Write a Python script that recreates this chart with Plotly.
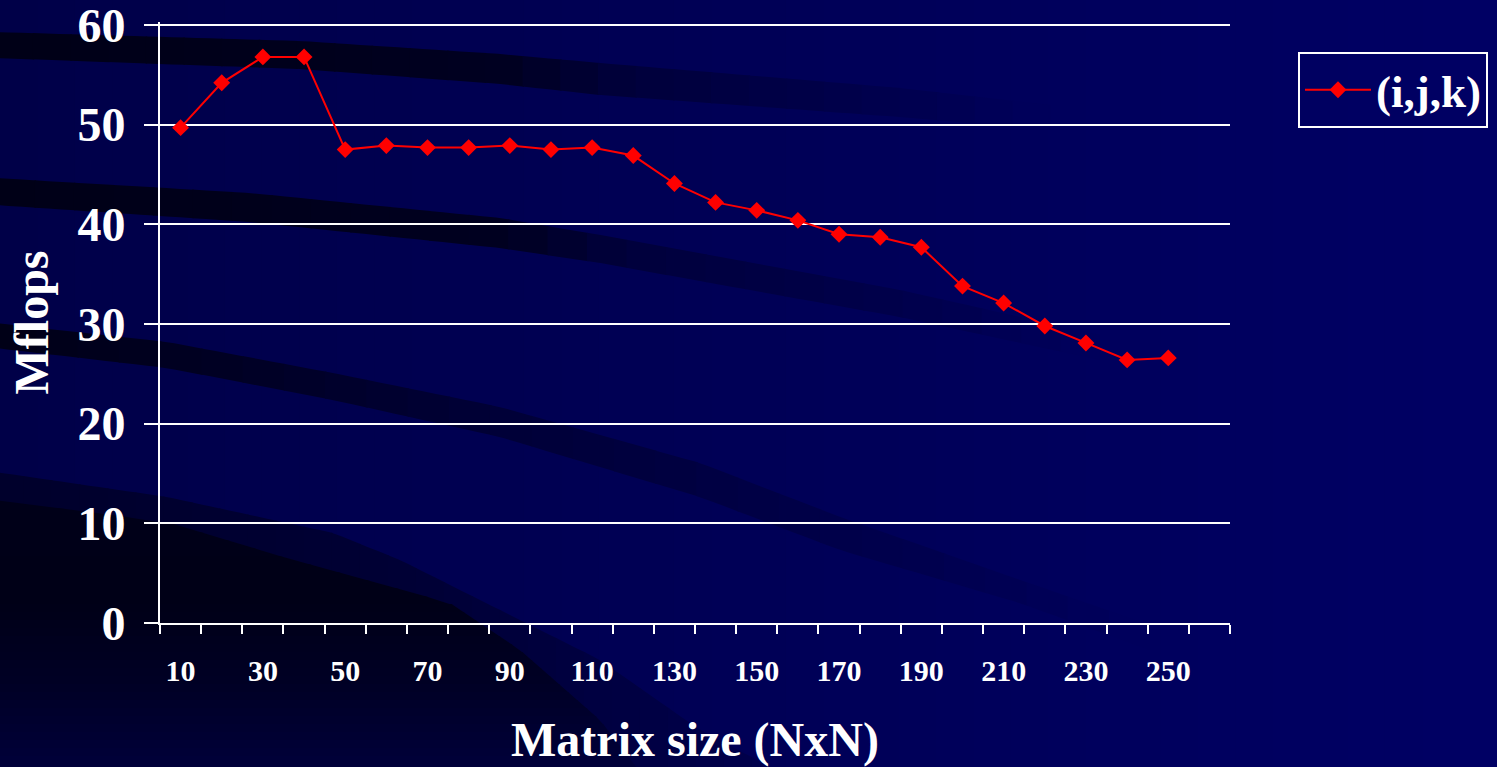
import numpy as np
import plotly.graph_objects as go

# ---------------- data ----------------
sizes = list(range(10, 260, 10))
mflops = [49.7, 54.2, 56.8, 56.8, 47.5, 47.9, 47.7, 47.7, 47.9, 47.5, 47.7, 46.9,
          44.1, 42.2, 41.4, 40.4, 39.0, 38.7, 37.7, 33.8, 32.1, 29.8, 28.1, 26.4, 26.6]
x_tick_labels = sizes[::2]
y_ticks = [0, 10, 20, 30, 40, 50, 60]
series_name = "(i,j,k)"
x_title = "Matrix size (NxN)"
y_title = "Mflops"

# ---------------- layout geometry ----------------
W, H = 1497, 767
L, R, B = 160, 1230, 623
Y_TOP_VAL = 60.3
PX_PER_UNIT = 598 / 60.0
T = int(round(B - Y_TOP_VAL * PX_PER_UNIT))
FONT = "Liberation Serif, Times New Roman, serif"


def px(x):
    return (x - L) / (R - L)


def py(y):
    return (B - y) / (B - T)


shapes = []


def poly(pts, color):
    d = "M " + " L ".join(f"{px(x):.5f},{py(y):.5f}" for x, y in pts) + " Z"
    shapes.append(dict(type="path", path=d, xref="paper", yref="paper",
                       fillcolor=color, line=dict(width=0), layer="below"))


def bg_rgb(x):
    t = min(max(x / W, 0), 1)
    return np.array([0, 0, 72 + 28 * t])


def rgb(c):
    c = np.clip(np.round(c), 0, 255).astype(int)
    return f"rgb({c[0]},{c[1]},{c[2]})"


# background horizontal gradient
N = 40
for i in range(N):
    x0 = i * W / N
    x1 = x0 + W / N + 1
    poly([(x0, -5), (x1, -5), (x1, H + 5), (x0, H + 5)], rgb(bg_rgb((x0 + x1) / 2)))

DARK = np.array([0, 0, 20])


def band(xs, top, bot, ax, av, nseg=28):
    x0, x1 = xs[0], xs[-1]
    edges = np.linspace(x0, x1, nseg + 1)
    for a, b in zip(edges[:-1], edges[1:]):
        bb = min(b + 1.5, x1)
        xx = np.linspace(a, bb, 4)
        tt = np.interp(xx, xs, top)
        bo = np.interp(xx, xs, bot)
        pts = list(zip(xx, tt)) + list(zip(xx[::-1], bo[::-1]))
        xm = (a + b) / 2
        al = float(np.interp(xm, ax, av))
        col = al * DARK + (1 - al) * bg_rgb(xm)
        poly(pts, rgb(col))


# curved dark bands of the slide template
band([-5, 300, 500, 600, 900, 1050], [32, 41, 54, 63, 88, 105], [58, 69, 84, 95, 117, 130],
     [0, 500, 620, 900, 1050], [0.95, 0.8, 0.4, 0.15, 0.0])
band([-5, 250, 500, 600, 900, 1100], [178, 193, 218, 235, 290, 335], [205, 222, 248, 263, 317, 360],
     [0, 500, 620, 900, 1100], [0.95, 0.8, 0.38, 0.2, 0.0])
band([-5, 167, 333, 500, 700, 840, 1020, 1150], [323, 342, 373, 407, 463, 517, 580, 625],
     [348, 368, 400, 437, 497, 550, 603, 650],
     [0, 250, 500, 700, 850, 1020, 1150], [0.95, 0.7, 0.42, 0.3, 0.2, 0.1, 0.0])
# large lower-left dark area (outer shade)
band([-5, 167, 333, 400, 500, 600, 700, 780], [472, 497, 533, 560, 610, 660, 730, 772],
     [772] * 8,
     [0, 400, 780], [0.55, 0.45, 0.15])
# darker core, shaded vertically
core_x = [-5, 167, 283, 450, 520, 600, 640]
core_y = [500, 522, 557, 603, 650, 720, 772]
ys = np.linspace(500, 772, 35)
for y0, y1 in zip(ys[:-1], ys[1:]):
    ya, yb = y0, min(y1 + 1.2, 772)
    xa = float(np.interp(ya, core_y, core_x))
    xb = float(np.interp(yb, core_y, core_x))
    ym = (y0 + y1) / 2
    al = float(np.interp(ym, [500, 600, 680, 772], [0.92, 0.95, 0.7, 0.3]))
    col = al * DARK + (1 - al) * bg_rgb(150)
    poly([(-5, ya), (xa, ya), (xb, yb), (-5, yb)], rgb(col))

# ---------------- figure ----------------
fig = go.Figure()
fig.add_trace(go.Scatter(
    x=sizes, y=mflops, name=series_name, mode="lines+markers",
    line=dict(color="#ff0000", width=2),
    marker=dict(symbol="diamond", size=13, color="#ff0000"),
))

fig.update_layout(
    width=W, height=H,
    margin=dict(l=L, r=W - R, t=T, b=H - B, autoexpand=False),
    paper_bgcolor="#00004e",
    plot_bgcolor="rgba(0,0,0,0)",
    shapes=shapes,
    showlegend=True,
    legend=dict(
        x=px(1298), y=py(52), xanchor="left", yanchor="top",
        bordercolor="white", borderwidth=2, bgcolor="rgba(0,0,0,0)",
        font=dict(family=FONT, size=45, color="white", weight="bold"),
        itemwidth=66,
    ),
    font=dict(family=FONT, color="white"),
)

fig.update_xaxes(
    range=[5, 265], tickmode="array", tickvals=x_tick_labels,
    ticktext=[str(v) for v in x_tick_labels],
    ticks="", showgrid=False, zeroline=False,
    showline=True, linecolor="white", linewidth=2,
    tickfont=dict(family=FONT, size=30, color="white", weight="bold"),
    ticklabelstandoff=20,
    minor=dict(tickmode="array", tickvals=list(range(5, 275, 10)), ticks="outside",
               ticklen=9, tickwidth=2, tickcolor="white", showgrid=False),
    title=dict(text=x_title, standoff=38,
               font=dict(family=FONT, size=48, color="white", weight="bold")),
    automargin=False, fixedrange=True,
)

fig.update_yaxes(
    range=[0, Y_TOP_VAL], tickmode="array", tickvals=y_ticks,
    ticks="outside", ticklen=14, tickwidth=2, tickcolor="white",
    showgrid=True, gridcolor="white", gridwidth=2, zeroline=False,
    showline=True, linecolor="white", linewidth=2,
    tickfont=dict(family=FONT, size=48, color="white", weight="bold"),
    ticklabelstandoff=9, ticklabeloverflow="allow",
    title=dict(text=y_title, standoff=14,
               font=dict(family=FONT, size=48, color="white", weight="bold")),
    automargin=False, fixedrange=True,
)

fig.write_html("out.html", config={"displayModeBar": False})
